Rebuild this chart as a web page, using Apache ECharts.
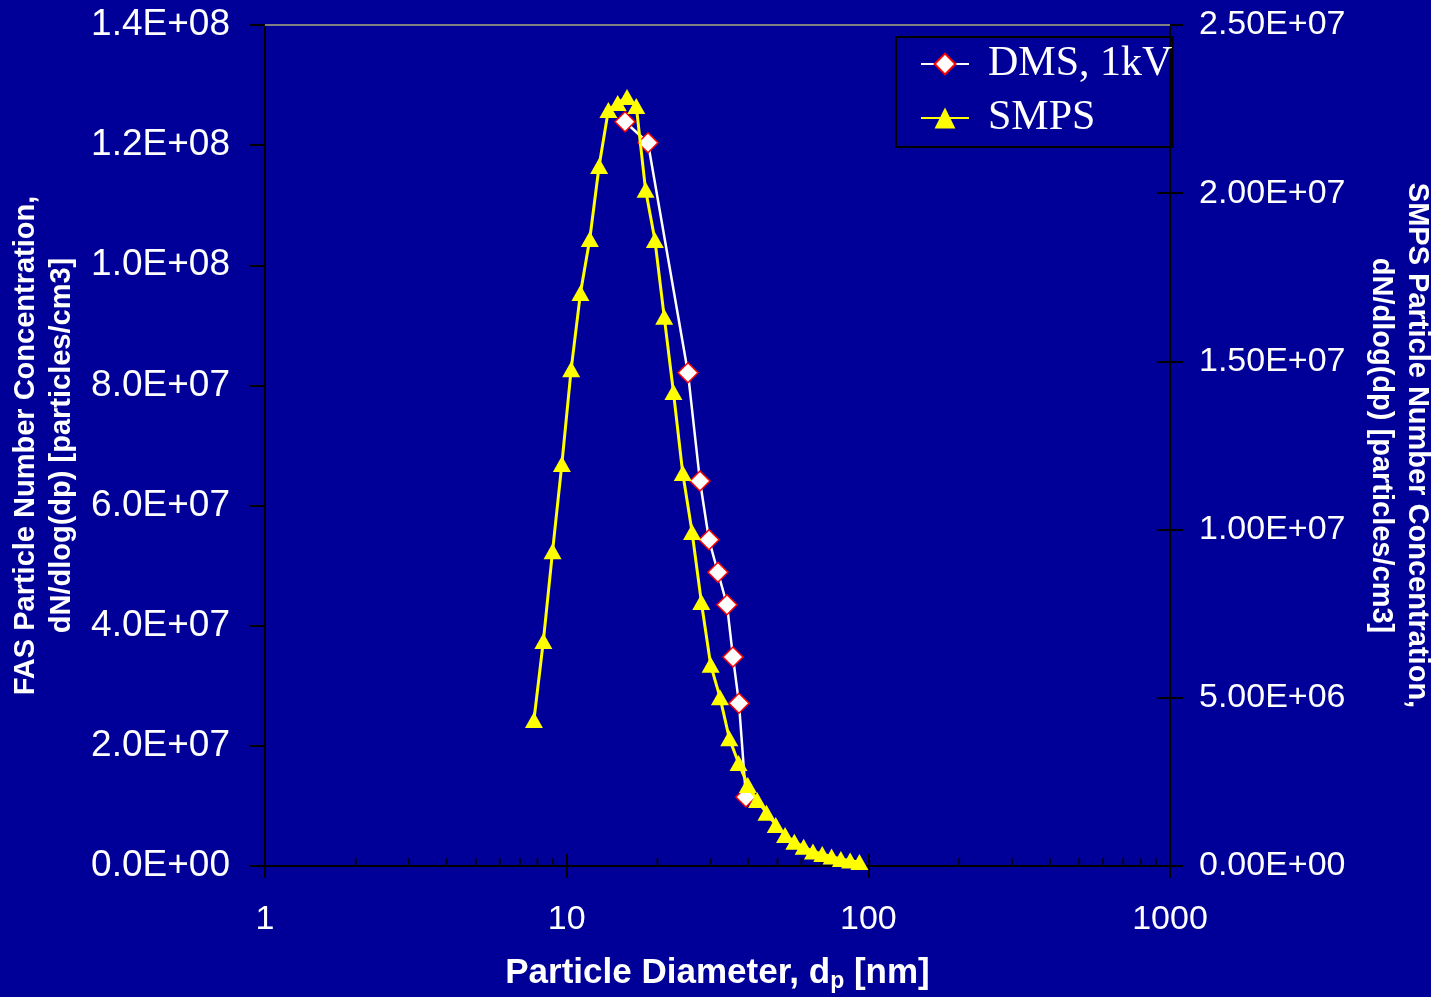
<!DOCTYPE html>
<html>
<head>
<meta charset="utf-8">
<script src="https://cdn.jsdelivr.net/npm/echarts@6/dist/echarts.min.js"></script>
<style>
  html, body { margin: 0; padding: 0; background: #000099; }
  #chart { width: 1431px; height: 997px; }
</style>
</head>
<body>
<div id="chart"></div>
<script>
// DMS (left axis)
const dmsDiameter = [15.61, 18.60, 25.24, 27.66, 29.63, 31.72, 33.99, 35.58, 37.25, 39.29]
const dmsConc = [1.239e8, 1.204e8, 8.21e7, 6.41e7, 5.43e7, 4.89e7, 4.35e7, 3.48e7, 2.71e7, 1.15e7]

// SMPS (right axis)
const smpsDiameter = [7.79, 8.37, 8.98, 9.64, 10.35, 11.11, 11.93, 12.81, 13.75, 14.76,
  15.85, 17.01, 18.26, 19.61, 21.05, 22.59, 24.25, 26.04, 27.95, 30.01,
  32.22, 34.59, 37.13, 39.86, 42.80, 45.95, 49.33, 52.96, 56.85, 61.04,
  65.53, 70.35, 75.53, 81.09, 87.05, 93.45]
const smpsConc = [4.34e6, 6.69e6, 9.36e6, 1.195e7, 1.477e7, 1.703e7, 1.864e7, 2.081e7, 2.247e7, 2.268e7,
  2.286e7, 2.259e7, 2.010e7, 1.861e7, 1.633e7, 1.409e7, 1.168e7, 9.93e6, 7.85e6, 5.98e6,
  5.02e6, 3.80e6, 3.06e6, 2.41e6, 1.96e6, 1.58e6, 1.22e6, 9.2e5, 7.2e5, 5.7e5,
  4.3e5, 3.6e5, 2.8e5, 2.1e5, 1.6e5, 1.2e5]

// minor ticks on the log x axis
const minorTicks = [2, 3, 4, 5, 6, 7, 8, 9, 20, 30, 40, 50, 60, 70, 80, 90, 200, 300, 400, 500, 600, 700, 800, 900]

const seriesNames = ['DMS, 1kV', 'SMPS']

const sci = (v, digits) => {
  if (v === 0) return (0).toFixed(digits) + 'E+00'
  const e = Math.floor(Math.log10(v) + 1e-9)
  const m = v / Math.pow(10, e)
  return m.toFixed(digits) + 'E+' + String(e).padStart(2, '0')
}

const labelFont = { color: '#fff', fontFamily: 'Liberation Sans' }
const titleFont = { color: '#fff', fontFamily: 'Liberation Sans', fontSize: 29, fontWeight: 'bold', lineHeight: 36 }

const chart = echarts.init(document.getElementById('chart'))

chart.setOption({
  backgroundColor: '#000099',
  animation: false,
  grid: { left: 265, right: 261, top: 25, bottom: 131, outerBoundsMode: 'none', containLabel: false },
  legend: {
    orient: 'vertical',
    left: 896,
    top: 37,
    padding: [6, 0, 8, 24],
    itemGap: 12,
    itemWidth: 48,
    itemHeight: 26,
    borderColor: '#000',
    borderWidth: 2,
    data: seriesNames,
    textStyle: { color: '#fff', fontFamily: 'Liberation Serif', fontSize: 42, padding: [0, 0, 0, 14] }
  },
  xAxis: [
    {
      type: 'log',
      logBase: 10,
      min: 1,
      max: 1000,
      position: 'bottom',
      name: 'Particle Diameter, d{sub|p} [nm]',
      nameLocation: 'middle',
      nameGap: 87,
      nameTextStyle: {
        color: '#fff', fontFamily: 'Liberation Sans', fontSize: 35, fontWeight: 'bold',
        rich: { sub: { color: '#fff', fontFamily: 'Liberation Sans', fontSize: 23, fontWeight: 'bold', padding: [17, 0, 0, 0] } }
      },
      axisLine: { lineStyle: { color: '#000', width: 2 } },
      axisTick: { show: true, length: 12, lineStyle: { color: '#000', width: 2 } },
      axisLabel: { ...labelFont, fontSize: 34, margin: 37, formatter: (v) => String(Math.round(v)) },
      splitLine: { show: false },
      minorTick: { show: false }
    },
    {
      type: 'log',
      logBase: 10,
      min: 1,
      max: 1000,
      position: 'bottom',
      axisLine: { show: false },
      axisTick: { show: true, inside: true, length: 12, lineStyle: { color: '#000', width: 2 } },
      axisLabel: { show: false },
      splitLine: { show: false }
    }
  ],
  yAxis: [
    {
      type: 'value',
      position: 'left',
      min: 0,
      max: 1.4e8,
      interval: 2e7,
      name: 'FAS Particle Number Concentration,\ndN/dlog(dp) [particles/cm3]',
      nameLocation: 'middle',
      nameGap: 183,
      nameTextStyle: titleFont,
      axisLine: { show: true, lineStyle: { color: '#000', width: 2 } },
      axisTick: { show: true, length: 15, lineStyle: { color: '#000', width: 2 } },
      axisLabel: { ...labelFont, fontSize: 37, margin: 35, formatter: (v) => sci(v, 1) },
      splitLine: { show: false }
    },
    {
      type: 'value',
      position: 'right',
      min: 0,
      max: 2.5e7,
      interval: 5e6,
      name: 'SMPS Particle Number Concentration,\ndN/dlog(dp) [particles/cm3]',
      nameLocation: 'middle',
      nameRotate: -90,
      nameGap: 193,
      nameTextStyle: titleFont,
      axisLine: { show: true, lineStyle: { color: '#000', width: 2 } },
      axisTick: { show: true, length: 13, lineStyle: { color: '#000', width: 2 } },
      axisLabel: { ...labelFont, fontSize: 34, margin: 29, formatter: (v) => sci(v, 2) },
      splitLine: { show: false }
    },
    {
      type: 'value',
      position: 'right',
      min: 0,
      max: 2.5e7,
      interval: 5e6,
      axisLine: { show: false },
      axisTick: { show: true, inside: true, length: 13, lineStyle: { color: '#000', width: 2 } },
      axisLabel: { show: false },
      splitLine: { show: false }
    }
  ],
  series: [
    {
      name: 'minor ticks',
      type: 'scatter',
      silent: true,
      xAxisIndex: 0,
      yAxisIndex: 0,
      symbol: 'rect',
      symbolSize: [2, 8],
      symbolOffset: [0, -4],
      itemStyle: { color: '#000' },
      z: 1,
      data: minorTicks.map((d) => [d, 0])
    },
    {
      name: seriesNames[0],
      type: 'line',
      xAxisIndex: 0,
      yAxisIndex: 0,
      symbol: 'diamond',
      symbolSize: [20, 20],
      showAllSymbol: true,
      lineStyle: { color: '#fff', width: 2.5 },
      itemStyle: { color: '#fff', borderColor: '#ff0000', borderWidth: 1.5 },
      z: 3,
      data: dmsDiameter.map((d, i) => [d, dmsConc[i]])
    },
    {
      name: seriesNames[1],
      type: 'line',
      xAxisIndex: 0,
      yAxisIndex: 1,
      symbol: 'triangle',
      symbolSize: [18, 16],
      showAllSymbol: true,
      lineStyle: { color: '#ffff00', width: 3 },
      itemStyle: { color: '#ffff00' },
      z: 4,
      markLine: {
        silent: true,
        symbol: 'none',
        label: { show: false },
        lineStyle: { color: '#808080', width: 2, type: 'solid' },
        data: [{ yAxis: 2.5e7 }]
      },
      data: smpsDiameter.map((d, i) => [d, smpsConc[i]])
    }
  ]
})
</script>
</body>
</html>
